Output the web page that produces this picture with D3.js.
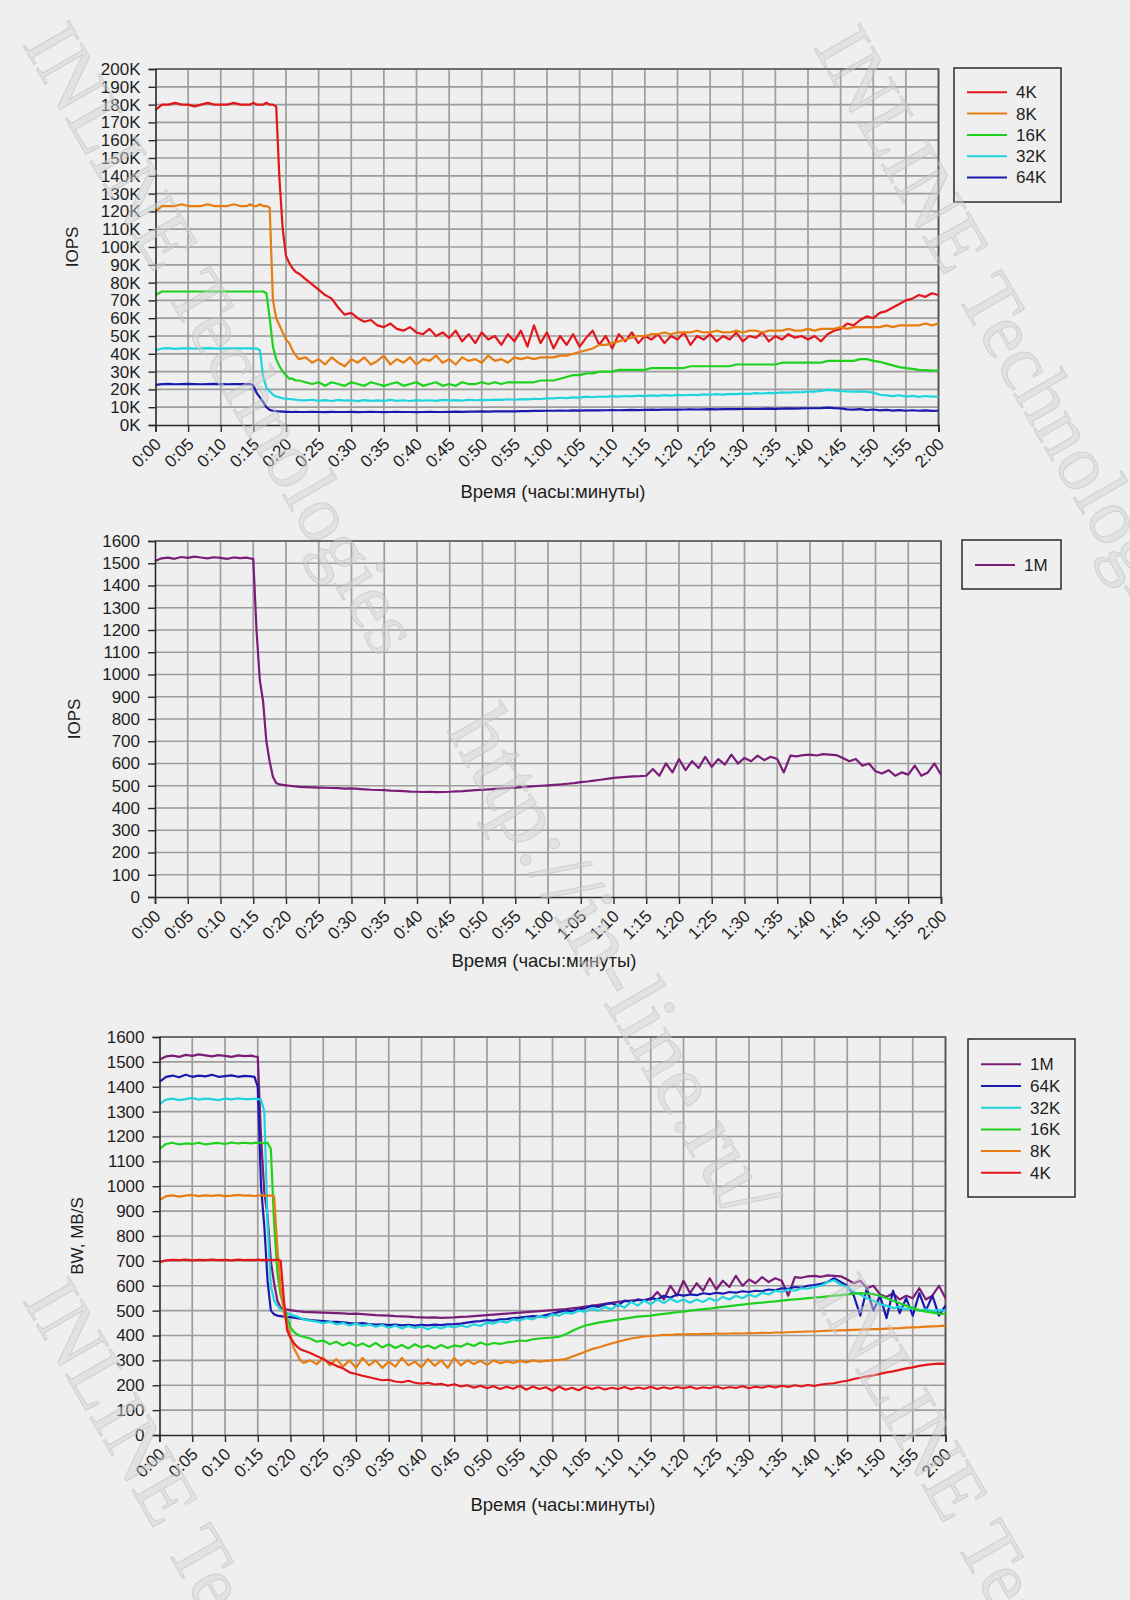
<!DOCTYPE html>
<html>
<head>
<meta charset="utf-8">
<script src="https://cdn.jsdelivr.net/npm/d3@7"></script>
<style>
  body { margin: 0; background: #efefef; }
  svg { display: block; font-family: "Liberation Sans", Arial, sans-serif; }
</style>
</head>
<body>
<svg></svg>
<script>
const width = 1130
const height = 1600
const svg = d3.select('svg')
  .attr('width', width)
  .attr('height', height)
  .style('background', '#efefef');

// sample times, minutes since start (half-minute steps around the drop)
const minutes = [0,1,2,3,4,5,6,7,8,9,10,11,12,13,
  14,14.5,15,15.5,16,16.5,17,17.5,18,18.5,19,19.5,20,20.5,21,21.5,22,
  23,24,25,26,27,28,29,30,31,32,33,34,35,36,37,38,39,40,41,42,43,44,45,46,47,48,49,50,51,52,53,54,55,56,57,58,59,60,
  61,62,63,64,65,66,67,68,69,70,71,72,73,74,75,76,77,78,79,80,81,82,83,84,85,86,87,88,89,90,91,92,93,94,95,96,97,98,99,100,
  101,102,103,104,105,106,107,108,109,110,111,112,113,114,115,116,117,118,119,120];

const tickLabels = ["0:00","0:05","0:10","0:15","0:20","0:25","0:30","0:35","0:40","0:45","0:50","0:55",
  "1:00","1:05","1:10","1:15","1:20","1:25","1:30","1:35","1:40","1:45","1:50","1:55","2:00"];

// IOPS, thousands
const iops4k = [177,180,180,181,180,180,179,180,181,180,180,180,181,180,
  180,180,181,180,180,180,181,180,180,179,138,110,95,91,88,86,85,
  82,79,76,73,71,66,62,63,60,58,59,56,55,57,54,53,55,52,51,54,50,52,49,53,47,51,46,52,48,50,45,51,47,53,44,56,46,52,
  43,50,45,51,44,49,53,45,50,43,51,47,52,46,50,48,51,46,50,48,52,45,50,48,51,47,50,48,52,47,50,49,52,47,50,48,51,49,50,48,
  50,47,51,53,54,57,56,59,61,60,63,64,66,68,70,71,73,72,74,73];
const iops8k = [120,123,123,123,124,123,123,123,124,123,123,123,124,123,
  123,124,123,123,124,123,123,122,70,60,56,52,48,46,42,39,37,
  38,35,37,34,38,35,33,37,35,38,34,36,39,34,37,35,38,34,37,36,39,35,37,34,38,36,37,35,39,36,37,35,38,37,38,37,38,38,
  38,39,39,40,41,42,43,45,45,46,47,48,49,50,50,51,51,52,51,52,52,52,53,52,52,53,52,52,53,52,53,53,52,53,53,53,54,53,53,54,
  53,54,54,54,55,54,55,55,55,55,55,56,55,56,56,56,56,57,56,57];
const iops16k = [73,75,75,75,75,75,75,75,75,75,75,75,75,75,
  75,75,75,75,75,75,74,60,44,37,33,30,28,26,26,25,25,
  24,23,24,22,24,23,22,24,23,22,24,23,22,23,24,22,23,24,22,23,24,22,23,22,24,23,23,24,23,24,23,24,24,24,24,24,25,25,
  25,26,27,28,28,29,29,30,30,30,31,31,31,31,31,32,32,32,32,32,32,33,33,33,33,33,33,33,34,34,34,34,34,34,34,35,35,35,35,35,
  35,35,36,36,36,36,36,37,37,36,35.5,34.5,33.5,32.5,32,31.5,31,30.8,30.6,30.5];
const iops32k = [42,43,43.2,42.8,43,43.1,42.9,43,43.2,43,42.9,43.1,43,43,
  43,43.1,42.9,43,42,27,21,19,17,16,15.5,15,14.8,14.6,14.4,14.2,14,
  13.8,14.2,13.6,14,13.5,14.1,13.7,13.9,13.4,14,13.6,13.8,13.5,14.1,13.6,13.9,13.5,14,13.7,13.9,
  13.6,14.1,13.8,14,13.7,14.2,13.9,14.1,14,14.3,14.1,14.4,14.2,14.5,14.4,14.7,14.6,15,
  15,15.3,15.1,15.5,15.4,15.9,15.6,16,15.8,16.2,15.9,16.3,16.1,16.5,16.2,16.6,16.4,16.8,16.5,16.9,
  16.7,17,16.8,17.2,17,17.3,17.1,17.5,17.3,17.6,17.5,17.9,17.7,18.1,17.9,18.3,18.2,18.5,18.4,18.7,
  18.8,19.2,19.7,19.4,19.1,18.9,18.8,18.9,18.7,18.2,17,16.6,16.2,16.7,15.9,16.4,15.8,16.3,15.9,16];
const iops64k = [22.5,23,23.1,22.9,23,23.1,23,22.9,23,23.1,23,22.9,23,23,
  23,23,22.2,18,15.5,13,10,8.5,8,7.8,7.6,7.5,7.4,7.4,7.3,7.4,7.3,
  7.3,7.4,7.3,7.2,7.4,7.3,7.3,7.4,7.2,7.3,7.4,7.3,7.2,7.3,7.4,7.3,7.3,7.2,7.3,7.4,
  7.3,7.3,7.4,7.5,7.4,7.5,7.5,7.6,7.5,7.6,7.7,7.6,7.7,7.8,7.8,7.9,7.9,8,
  8,8.1,8,8.2,8.1,8.2,8.3,8.2,8.3,8.4,8.3,8.4,8.5,8.4,8.5,8.6,8.5,8.6,8.7,8.6,
  8.7,8.8,8.7,8.8,8.9,8.8,8.9,9,8.9,9,9.1,9,9.1,9.2,9.1,9.2,9.3,9.2,9.3,9.4,
  9.4,9.5,9.8,9.5,9.3,8.8,8.6,8.9,8.4,8.7,8.2,8.5,8.1,8.4,8,8.3,8,8.2,7.9,8];

// 1M blocks: IOPS equals MB/s
const mb1M = [1510,1522,1525,1520,1528,1524,1530,1526,1522,1527,1524,1520,1526,1523,
  1525,1522,1520,1200,975,880,700,610,540,512,506,504,502,500,498,497,495,
  494,493,492,491,490,489,487,488,486,484,482,481,480,478,477,476,474,473,472,473,
  471,472,473,475,476,478,480,482,484,486,488,490,492,494,496,498,500,502,
  504,506,509,512,516,519,523,527,531,535,538,540,542,543,545,575,545,600,560,620,
  570,610,580,630,585,620,595,640,600,625,610,635,615,630,620,560,635,632,638,640,
  636,642,640,638,625,610,620,590,600,565,555,570,545,560,550,590,545,560,600,550];

// bandwidth, MB/s
const bw64k = [1420,1440,1445,1438,1448,1440,1445,1442,1448,1440,1443,1446,1440,1444,
  1442,1440,1400,1000,840,620,500,485,480,478,476,475,474,472,470,468,466,
  462,460,458,456,455,453,450,448,450,446,444,445,442,444,441,443,440,443,441,444,
  442,445,446,448,452,456,458,462,460,465,466,470,472,475,478,476,482,488,
  495,500,498,505,510,520,515,525,530,520,540,535,545,540,550,545,560,552,565,560,
  565,562,570,566,572,568,575,572,578,575,580,578,585,582,590,588,595,592,600,603,
  608,615,630,615,600,560,480,590,500,560,470,580,490,550,480,570,500,560,480,520];
const bw32k = [1330,1348,1352,1346,1350,1355,1348,1352,1350,1346,1352,1349,1353,1350,
  1350,1352,1350,1348,1300,850,600,540,520,505,495,490,485,480,476,470,465,
  460,456,450,455,445,450,440,448,438,445,435,442,430,440,428,438,430,436,425,435,
  428,438,432,440,434,445,438,452,448,458,452,465,460,470,465,478,472,485,
  480,492,488,500,495,510,500,515,505,525,512,535,520,540,525,545,530,548,535,545,
  532,545,535,550,538,555,545,560,550,565,555,572,565,580,575,585,580,590,588,595,
  600,615,622,605,595,575,565,550,540,525,520,510,515,505,510,500,505,498,502,500];
const bw16k = [1150,1170,1175,1168,1172,1170,1175,1168,1172,1174,1170,1176,1172,1175,
  1172,1175,1174,1176,1172,1175,1150,850,650,560,520,470,432,415,405,398,395,
  388,375,380,365,375,360,372,358,368,355,370,352,365,350,362,348,365,352,360,348,
  362,350,360,355,368,358,372,362,370,366,372,375,380,378,385,388,390,392,
  395,405,418,430,440,446,452,456,460,464,468,472,476,478,480,484,487,490,494,496,
  500,503,506,508,512,515,518,521,524,527,530,532,535,537,540,543,545,547,550,552,
  554,557,560,562,565,568,570,568,566,560,550,540,530,520,510,502,496,492,488,487];
const bw8k = [945,960,963,958,962,965,960,963,961,964,960,962,965,962,
  963,960,962,965,962,963,962,960,750,590,490,440,400,350,325,300,290,
  300,285,310,280,305,275,300,270,310,280,300,270,295,275,310,280,295,272,305,278,
  300,270,310,280,300,285,298,282,300,288,296,290,298,292,300,295,298,300,
  302,305,315,325,335,345,352,360,368,375,382,388,392,396,398,400,403,402,405,404,
  406,405,407,406,408,407,408,409,408,410,409,411,410,412,412,413,414,415,416,416,
  418,419,420,421,422,423,424,425,426,426,428,429,430,432,433,434,436,437,438,440];
const bw4k = [695,702,704,703,705,702,704,703,705,703,704,702,705,703,
  704,703,705,703,704,702,704,703,705,700,540,420,390,370,355,345,340,
  330,318,305,290,278,268,252,245,238,232,226,220,222,215,212,218,210,206,210,203,
  206,198,204,195,200,190,198,188,196,185,194,186,198,182,195,185,192,178,
  195,182,190,180,194,185,192,183,190,185,193,184,191,186,194,185,192,186,193,188,
  194,186,192,188,195,187,193,189,196,188,194,190,197,191,198,193,200,195,201,197,
  203,206,208,214,218,225,230,236,240,246,252,256,262,268,272,278,282,285,287,286];

const colors = {
  "4K": "#e3161b",
  "8K": "#e77d12",
  "16K": "#1fd11f",
  "32K": "#1fd5dc",
  "64K": "#1a1aaf",
  "1M": "#7a1c78"
};

function drawChart(cfg) {
  var g = svg.append("g");

  var x = d3.scaleLinear().domain([0, 120]).range([cfg.left, cfg.right]);
  var y = d3.scaleLinear().domain([0, cfg.yMax]).range([cfg.bottom, cfg.top]);
  var yTicks = d3.range(0, cfg.yMax + 1, cfg.yStep);
  var xTicks = d3.range(0, 121, 5);

  // grid
  g.append("g")
    .selectAll("line")
    .data(yTicks.slice(1))
    .enter()
    .append("line")
    .attr("x1", cfg.left).attr("x2", cfg.right)
    .attr("y1", d => y(d)).attr("y2", d => y(d))
    .attr("stroke", "#9d9d9d")
    .attr("stroke-width", 1.7);
  g.append("g")
    .selectAll("line")
    .data(xTicks.slice(1))
    .enter()
    .append("line")
    .attr("y1", cfg.top).attr("y2", cfg.bottom)
    .attr("x1", d => x(d)).attr("x2", d => x(d))
    .attr("stroke", "#9d9d9d")
    .attr("stroke-width", 1.7);

  // frame top / right
  g.append("path")
    .attr("d", "M" + cfg.left + "," + cfg.top + "H" + cfg.right + "V" + cfg.bottom)
    .attr("fill", "none")
    .attr("stroke", "#555")
    .attr("stroke-width", 1.7);

  // series
  var line = d3.line()
    .x((d, i) => x(minutes[i]))
    .y(d => y(d));

  g.append("g")
    .selectAll("path")
    .data(cfg.series)
    .enter()
    .append("path")
    .attr("d", d => line(d.values))
    .attr("fill", "none")
    .attr("stroke", d => colors[d.name])
    .attr("stroke-width", 2.2)
    .attr("stroke-linejoin", "round");

  // axes
  var yAxis = g.append("g")
    .attr("transform", "translate(" + cfg.left + ",0)")
    .call(d3.axisLeft(y).tickValues(yTicks).tickFormat(cfg.yFormat).tickSize(7).tickPadding(8));
  var xAxis = g.append("g")
    .attr("transform", "translate(0," + cfg.bottom + ")")
    .call(d3.axisBottom(x).tickValues(xTicks).tickFormat((d, i) => tickLabels[i]).tickSize(7));

  [yAxis, xAxis].forEach(a => {
    a.select(".domain").attr("stroke", "#2a2a2a").attr("stroke-width", 1.6);
    a.selectAll(".tick line").attr("stroke", "#2a2a2a").attr("stroke-width", 1.4);
    a.selectAll("text").attr("fill", "#1e1e1e").style("font-size", "17px")
      .style("font-family", "'Liberation Sans', Arial, sans-serif");
  });

  xAxis.selectAll("text")
    .attr("x", 0)
    .attr("y", 0)
    .attr("dy", "0.35em")
    .attr("text-anchor", "end")
    .attr("transform", "translate(2,16) rotate(-45)");

  // titles
  g.append("text")
    .attr("transform", "translate(" + cfg.yTitleX + "," + (cfg.top + cfg.bottom) / 2 + ") rotate(-90)")
    .attr("text-anchor", "middle")
    .attr("dy", "0.35em")
    .attr("fill", "#1e1e1e")
    .style("font-size", "17px")
    .text(cfg.yTitle);
  g.append("text")
    .attr("x", cfg.xTitleX)
    .attr("y", cfg.xTitleY)
    .attr("text-anchor", "middle")
    .attr("dy", "0.35em")
    .attr("fill", "#1e1e1e")
    .style("font-size", "18.5px")
    .text("Время (часы:минуты)");

  // legend
  var lg = cfg.legend;
  g.append("rect")
    .attr("x", lg.x).attr("y", lg.y)
    .attr("width", lg.w).attr("height", lg.h)
    .attr("fill", "none")
    .attr("stroke", "#2a2a2a")
    .attr("stroke-width", 1.5);
  var rows = g.append("g")
    .selectAll("g")
    .data(lg.names)
    .enter()
    .append("g")
    .attr("transform", (d, i) => "translate(" + lg.lineX + "," + (lg.firstY + i * lg.step) + ")");
  rows.append("line")
    .attr("x1", 0).attr("x2", 40)
    .attr("stroke", d => colors[d])
    .attr("stroke-width", 2);
  rows.append("text")
    .attr("x", lg.textDx)
    .attr("dy", "0.35em")
    .attr("fill", "#1e1e1e")
    .style("font-size", "17px")
    .text(d => d);
}

drawChart({
  left: 155.5, right: 938.5, top: 69, bottom: 425,
  yMax: 200, yStep: 10, yFormat: d => d + "K",
  yTitle: "IOPS", yTitleX: 72, xTitleX: 553, xTitleY: 492,
  series: [
    {name: "4K", values: iops4k},
    {name: "8K", values: iops8k},
    {name: "16K", values: iops16k},
    {name: "32K", values: iops32k},
    {name: "64K", values: iops64k}
  ],
  legend: {x: 954, y: 68, w: 107, h: 134, lineX: 967, textDx: 49, firstY: 92.3, step: 21.3,
    names: ["4K", "8K", "16K", "32K", "64K"]}
});

drawChart({
  left: 155, right: 941, top: 541, bottom: 897,
  yMax: 1600, yStep: 100, yFormat: d => d,
  yTitle: "IOPS", yTitleX: 74, xTitleX: 544, xTitleY: 961,
  series: [{name: "1M", values: mb1M}],
  legend: {x: 962, y: 540, w: 99, h: 49, lineX: 975, textDx: 49, firstY: 565, step: 21,
    names: ["1M"]}
});

drawChart({
  left: 159.5, right: 945.5, top: 1037, bottom: 1435,
  yMax: 1600, yStep: 100, yFormat: d => d,
  yTitle: "BW, MB/S", yTitleX: 77, xTitleX: 563, xTitleY: 1505,
  series: [
    {name: "1M", values: mb1M},
    {name: "64K", values: bw64k},
    {name: "32K", values: bw32k},
    {name: "16K", values: bw16k},
    {name: "8K", values: bw8k},
    {name: "4K", values: bw4k}
  ],
  legend: {x: 968, y: 1039, w: 107, h: 158, lineX: 981, textDx: 49, firstY: 1064.3, step: 21.7,
    names: ["1M", "64K", "32K", "16K", "8K", "4K"]}
});

// watermark
const marks = [
  {text: "INLINE Technologies", x: 22, y: 44, size: 80},
  {text: "INLINE Technologies", x: 813, y: 47, size: 80},
  {text: "http://in-line.ru/", x: 446, y: 730, size: 90},
  {text: "INLINE Technologies", x: 22, y: 1300, size: 80},
  {text: "INLINE Technologies", x: 812, y: 1295, size: 80}
];
svg.append("g")
  .attr("pointer-events", "none")
  .selectAll("text")
  .data(marks)
  .enter()
  .append("text")
  .attr("transform", d => "translate(" + d.x + "," + d.y + ") rotate(60)")
  .attr("fill", "#d2d2d2")
  .attr("fill-opacity", 0.45)
  .attr("stroke", "#b9b9b9")
  .attr("stroke-opacity", 0.5)
  .attr("stroke-width", 1)
  .style("font-family", "'Liberation Serif', 'DejaVu Serif', serif")
  .style("font-size", d => d.size + "px")
  .text(d => d.text);
</script>
</body>
</html>
